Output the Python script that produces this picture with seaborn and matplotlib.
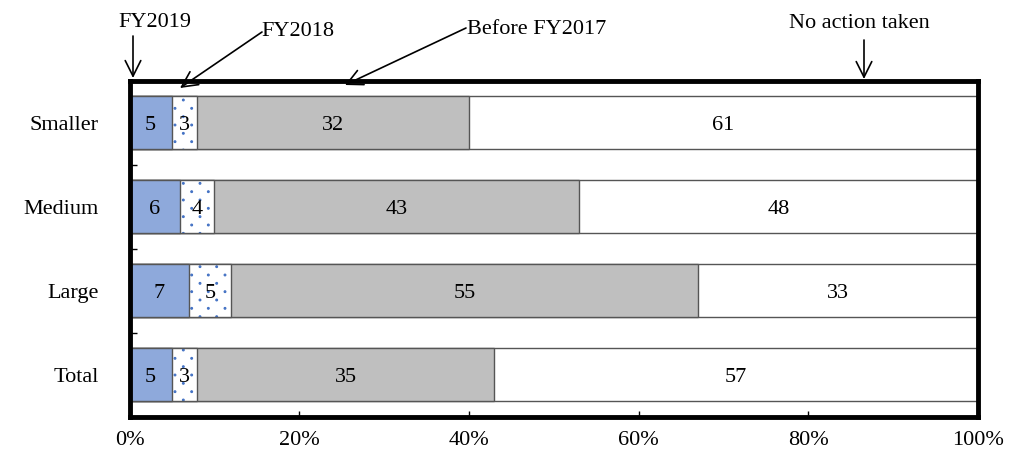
import matplotlib
matplotlib.use("Agg")
import matplotlib.pyplot as plt
from matplotlib import hatch as mhatch
from matplotlib.path import Path
from matplotlib.colors import to_rgba
import seaborn as sns
import pandas as pd
import numpy as np

# Share of firms by when action was taken, per firm size (%)
categories = ["Smaller", "Medium", "Large", "Total"]
fy2019 = [5, 6, 7, 5]
fy2018 = [3, 4, 5, 3]
before_fy2017 = [32, 43, 55, 35]
no_action = [61, 48, 33, 57]

series_names = ["FY2019", "FY2018", "Before FY2017", "No action taken"]
series_values = [fy2019, fy2018, before_fy2017, no_action]
x_ticks = [0, 20, 40, 60, 80, 100]
x_tick_labels = ["0%", "20%", "40%", "60%", "80%", "100%"]

fills = ["#8EA9DB", "white", "#BFBFBF", "white"]
edge = "#555555"
dot_blue = "#4472C4"


class StaggeredDots(mhatch.HatchPatternBase):
    """Small filled dots on a staggered lattice: close rows, wide columns."""

    def __init__(self, hatch, density):
        n = hatch.count(".")
        self.num_rows = 12 * n
        circle = Path.unit_circle()
        self.shape_vertices = circle.vertices
        self.shape_codes = circle.codes
        self.radius = 0.009
        self.positions = []
        if self.num_rows:
            step = 1.0 / self.num_rows
            for r in range(self.num_rows + 1):
                start = 0.0 if r % 2 == 0 else step
                for c in np.arange(start, 1.0 + 1e-9, 2 * step):
                    self.positions.append((c, r * step))
        self.num_vertices = len(self.positions) * len(self.shape_vertices)

    def set_vertices_and_codes(self, vertices, codes):
        k = len(self.shape_vertices)
        sv = self.shape_vertices * self.radius
        for idx, (cx, cy) in enumerate(self.positions):
            vertices[idx * k:(idx + 1) * k] = sv + (cx, cy)
            codes[idx * k:(idx + 1) * k] = self.shape_codes


mhatch._hatch_types = [StaggeredDots if t is mhatch.SmallFilledCircles else t
                       for t in mhatch._hatch_types]

sns.set_theme(style="white")
plt.rcParams["font.family"] = ["Liberation Serif", "DejaVu Serif"]
plt.rcParams["text.color"] = "black"
plt.rcParams["xtick.color"] = "black"
plt.rcParams["ytick.color"] = "black"
plt.rcParams["hatch.linewidth"] = 0.8
FS = 16

fig = plt.figure(figsize=(10.24, 4.52), dpi=100)
W, H = 1024, 452
ax = fig.add_axes([129.5 / W, (H - 417.5) / H, (978 - 129.5) / W, (417.5 - 81.5) / H])

# cumulative right edges of each stacked segment
vals = np.array(series_values, dtype=float)
cum = np.cumsum(vals, axis=0)
lefts = cum - vals

# draw from the outermost segment inwards so inner segments sit on top
for i in reversed(range(len(series_names))):
    df = pd.DataFrame({"category": categories, "right": cum[i]})
    n_before = len(ax.patches)
    sns.barplot(data=df, x="right", y="category", order=categories,
                orient="h", color=fills[i], width=0.62, ax=ax,
                edgecolor=edge, linewidth=1.0, saturation=1,
                hatch="." if series_names[i] == "FY2018" else None)
    for p in ax.patches[n_before:]:
        p.set_facecolor(fills[i])
        if series_names[i] == "FY2018":
            p._hatch_color = to_rgba(dot_blue)

# value labels in the middle of each segment
for i in range(len(series_names)):
    for j, cat in enumerate(categories):
        mid = (lefts[i, j] + min(cum[i, j], 100)) / 2
        ax.text(mid, j, f"{int(vals[i, j])}", ha="center",
                va="center_baseline", fontsize=FS, color="black", zorder=5)

ax.set_xlim(0, 100)
ax.set_ylim(3.5, -0.5)
ax.set_xlabel("")
ax.set_ylabel("")
ax.set_xticks(x_ticks)
ax.set_xticklabels(x_tick_labels, fontsize=FS)
ax.set_yticks(range(len(categories)))
ax.set_yticklabels(categories, fontsize=FS)
for lbl in ax.get_yticklabels():
    lbl.set_va("center_baseline")
ax.set_yticks([0.5, 1.5, 2.5], minor=True)
ax.tick_params(axis="x", direction="in", length=4, width=1, color="black",
               pad=10, bottom=True)
ax.tick_params(axis="y", which="major", length=0, pad=22)
ax.tick_params(axis="y", which="minor", direction="in", length=5, width=1,
               color="black", left=True)
for s in ax.spines.values():
    s.set_visible(True)
    s.set_color("black")
    s.set_linewidth(3.5)
    s.set_zorder(6)

# arrow callouts naming each segment, placed in figure pixels
arrow_kw = dict(arrowstyle="->", color="black", lw=1.2, mutation_scale=28,
                shrinkA=0, shrinkB=0)
callouts = [
    ("FY2019", (155, H - 20), (133, H - 79), (133, H - 37)),
    ("FY2018", (298, H - 29), (180, H - 89), (262, H - 33)),
    ("Before FY2017", (537, H - 27), (345, H - 86), (466, H - 29)),
    ("No action taken", (859, H - 21), (864, H - 80), (864, H - 41)),
]
for label, text_xy, tip, tail in callouts:
    fig.text(text_xy[0] / W, text_xy[1] / H, label, ha="center",
             va="center_baseline", fontsize=FS)
    ann = ax.annotate("", xy=tip, xycoords="figure pixels", xytext=tail,
                      textcoords="figure pixels", arrowprops=arrow_kw,
                      annotation_clip=False)
    ann.set_zorder(10)

fig.savefig("out.png", dpi=100)
